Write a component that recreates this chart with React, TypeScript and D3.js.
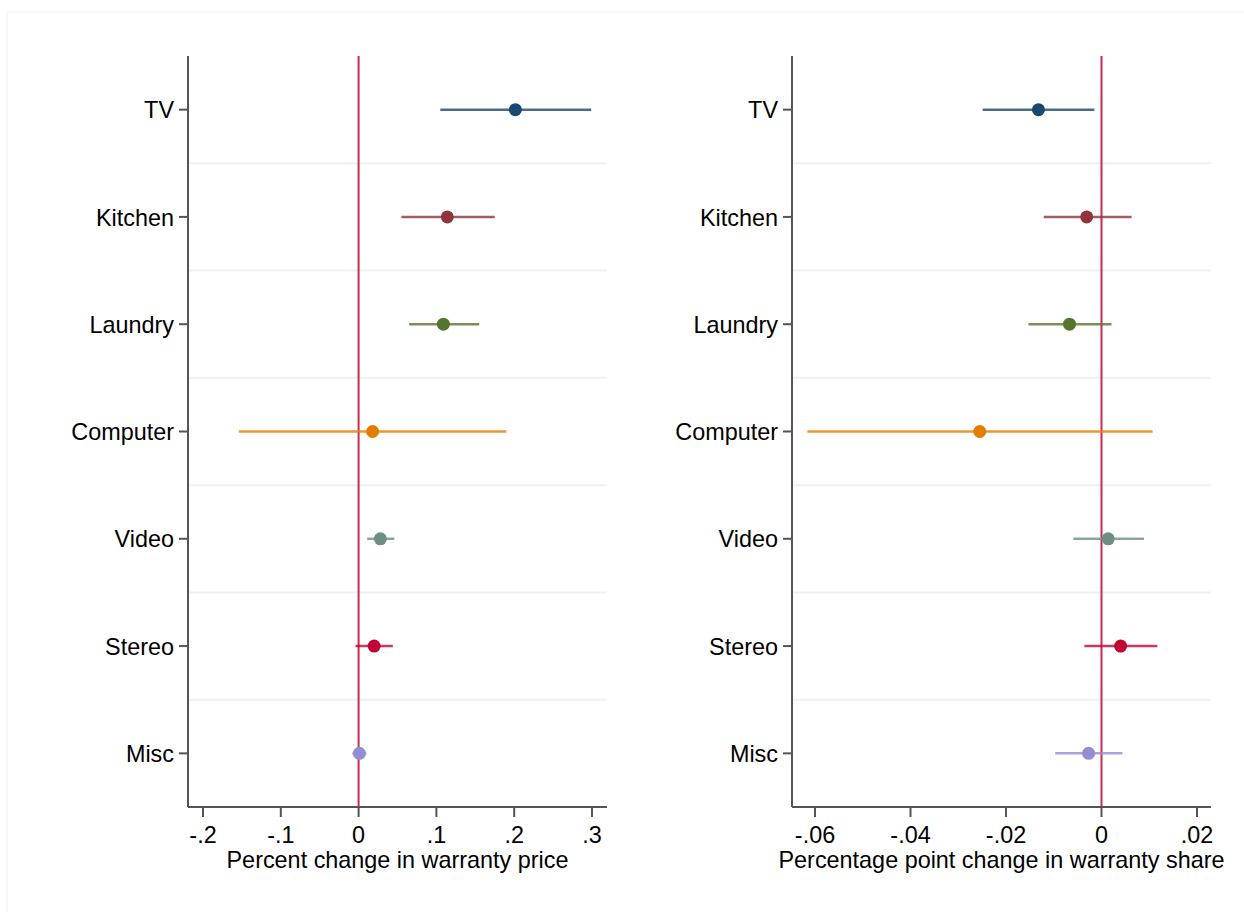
import React from "react";
import * as d3 from "d3";

const categories = ["TV", "Kitchen", "Laundry", "Computer", "Video", "Stereo", "Misc"];
const colors = ["#1a476f", "#90353b", "#55752f", "#e37e00", "#6e8e84", "#c10534", "#938dd2"];

const priceEst = [0.2015, 0.114, 0.109, 0.018, 0.028, 0.02, 0.001];
const priceLo = [0.105, 0.055, 0.065, -0.154, 0.011, -0.004, -0.008];
const priceHi = [0.299, 0.175, 0.155, 0.19, 0.046, 0.044, 0.01];
const priceTicks = [-0.2, -0.1, 0, 0.1, 0.2, 0.3];
const priceTickLabels = ["-.2", "-.1", "0", ".1", ".2", ".3"];

const shareEst = [-0.0132, -0.0031, -0.0067, -0.0255, 0.0014, 0.004, -0.0027];
const shareLo = [-0.0249, -0.0121, -0.0153, -0.0616, -0.0059, -0.0036, -0.0097];
const shareHi = [-0.0015, 0.0063, 0.0021, 0.0107, 0.0089, 0.0117, 0.0044];
const shareTicks = [-0.06, -0.04, -0.02, 0, 0.02];
const shareTickLabels = ["-.06", "-.04", "-.02", "0", ".02"];

const FONT = "'Liberation Sans', Arial, sans-serif";
const FS = 23.4;
const top = 56;
const bottom = 807;

type PanelProps = {
  left: number;
  right: number;
  domain: [number, number];
  est: number[];
  lo: number[];
  hi: number[];
  ticks: number[];
  tickLabels: string[];
  title: string;
};

function Panel({ left, right, domain, est, lo, hi, ticks, tickLabels, title }: PanelProps) {
  const x = d3.scaleLinear().domain(domain).range([left, right]);
  const y = d3.scaleBand().domain(categories).range([top, bottom]);
  const bw = y.bandwidth();
  const cy = (c: string) => (y(c) as number) + bw / 2;
  return (
    <g>
      {categories.slice(1).map((c) => (
        <line key={"g" + c} x1={left} x2={right} y1={y(c) as number} y2={y(c) as number} stroke="#edf2f4" strokeWidth={2} />
      ))}
      <line x1={x(0)} x2={x(0)} y1={top} y2={bottom} stroke="#cc2b52" strokeWidth={2} />
      {categories.map((c, i) => (
        <g key={"m" + c}>
          <line x1={x(lo[i])} x2={x(hi[i])} y1={cy(c)} y2={cy(c)} stroke={colors[i]} strokeWidth={2.5} strokeOpacity={0.8} />
          <circle cx={x(est[i])} cy={cy(c)} r={6.5} fill={colors[i]} />
        </g>
      ))}
      <line x1={left} x2={left} y1={top} y2={bottom} stroke="#555" strokeWidth={2} />
      <line x1={left} x2={right} y1={bottom} y2={bottom} stroke="#555" strokeWidth={2} />
      {categories.map((c) => (
        <g key={"t" + c}>
          <line x1={left - 9} x2={left} y1={cy(c)} y2={cy(c)} stroke="#555" strokeWidth={2} />
          <text x={left - 14} y={cy(c)} dy="0.37em" textAnchor="end" fontSize={FS} fontFamily={FONT} fill="#000">
            {c}
          </text>
        </g>
      ))}
      {ticks.map((t, i) => (
        <g key={"x" + i}>
          <line x1={x(t)} x2={x(t)} y1={bottom} y2={bottom + 10} stroke="#555" strokeWidth={2} />
          <text x={x(t)} y={843} textAnchor="middle" fontSize={FS} fontFamily={FONT} fill="#000">
            {tickLabels[i]}
          </text>
        </g>
      ))}
      <text x={(left + right) / 2} y={868} textAnchor="middle" fontSize={FS} fontFamily={FONT} fill="#000">
        {title}
      </text>
    </g>
  );
}

export default function App() {
  return (
    <svg width={1244} height={912} style={{ position: "absolute", left: 0, top: 0, background: "#fff" }}>
      <rect x={0} y={0} width={1244} height={912} fill="#fff" />
      <rect x={7} y={12} width={1250} height={910} fill="none" stroke="#f2f2f2" strokeWidth={1} />
      <Panel
        left={188}
        right={607}
        domain={[-0.2 - 15 / 778, 0.3 + 15 / 778]}
        est={priceEst}
        lo={priceLo}
        hi={priceHi}
        ticks={priceTicks}
        tickLabels={priceTickLabels}
        title="Percent change in warranty price"
      />
      <Panel
        left={792}
        right={1211}
        domain={[-0.06 - 23 / 4775, 0.02 + 14 / 4775]}
        est={shareEst}
        lo={shareLo}
        hi={shareHi}
        ticks={shareTicks}
        tickLabels={shareTickLabels}
        title="Percentage point change in warranty share"
      />
    </svg>
  );
}
